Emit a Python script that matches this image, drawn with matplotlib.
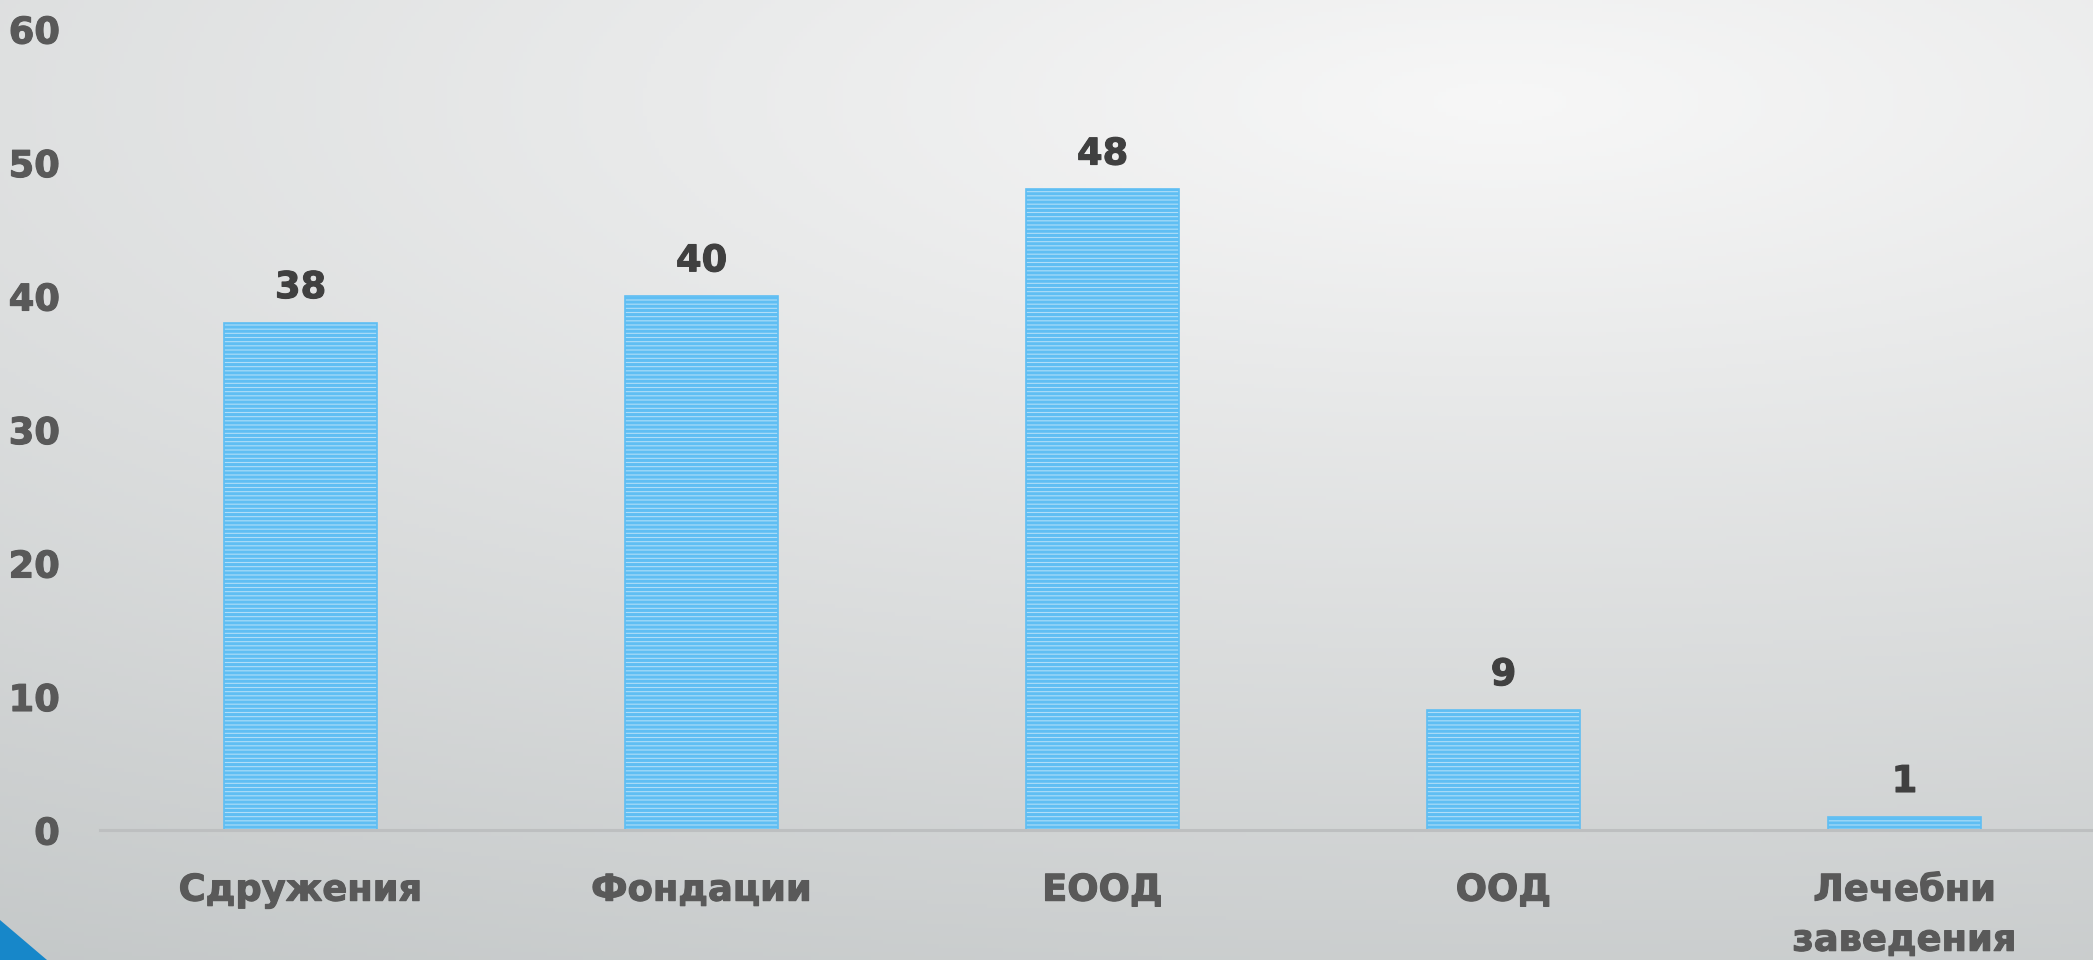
import numpy as np
import matplotlib
matplotlib.use("Agg")
from matplotlib import pyplot as plt
from matplotlib.patches import Polygon
import matplotlib.patheffects as pe

categories = ['Сдружения', 'Фондации', 'ЕООД', 'ООД', 'Лечебни\nзаведения']
values = [38, 40, 48, 9, 1]
yticks = [0, 10, 20, 30, 40, 50, 60]

bar_color = '#2ea8ef'
label_color = '#595959'
value_color = '#404040'
fsize = 26.5

plt.rcParams['font.family'] = ['DejaVu Sans']
plt.rcParams['hatch.linewidth'] = 2.2
plt.rcParams['hatch.color'] = bar_color

W, H = 2093, 960
fig = plt.figure(figsize=(W / 100, H / 100), dpi=100)

# background: light spot towards the upper right, darker to the bottom
bg = fig.add_axes([0, 0, 1, 1])
yy, xx = np.mgrid[0:H:4, 0:W:4]
dist = np.sqrt((0.015 * (xx - 1500)) ** 2 + (0.047 * (yy - 100)) ** 2)
B = 247 - dist
t = np.clip(dist / 45, 0, 1)
img = np.dstack([B - 4 * t, B - 0.5 * t, B]) / 255
bg.imshow(np.clip(img, 0, 1), aspect='auto', extent=[0, 1, 0, 1], origin='upper')
bg.add_patch(Polygon([[0, 0], [47 / W, 0], [0, 40 / H]], closed=True,
                     facecolor='#1787c9', edgecolor='none'))
bg.set_xlim(0, 1)
bg.set_ylim(0, 1)
bg.axis('off')

ax = fig.add_axes([100 / W, 130 / H, 1 - 100 / W, 801 / H])
ax.patch.set_alpha(0)
x = np.arange(len(categories))
bars = ax.bar(x, values, width=0.38, color='#b0def8', edgecolor='#5fbef3',
              linewidth=1.2, hatch='----')
for b, v in zip(bars, values):
    ax.annotate(str(v), (b.get_x() + b.get_width() / 2, v), xytext=(0, 12),
                textcoords='offset points', ha='center', va='bottom',
                fontsize=fsize, fontweight='bold', color=value_color,
                path_effects=[pe.withStroke(linewidth=0.8, foreground=value_color)])

ax.set_xlim(-0.5, 4.47)
ax.set_ylim(0, 60)
ax.set_yticks(yticks)
ax.set_xticks(x)
ax.set_xticklabels(categories, fontsize=fsize, fontweight='bold', color=label_color,
                   linespacing=1.45, va='top')
for tl in ax.get_xticklabels() + ax.get_yticklabels():
    tl.set_fontsize(fsize)
    tl.set_fontweight('bold')
    tl.set_color(label_color)
    tl.set_path_effects([pe.withStroke(linewidth=0.8, foreground=label_color)])
ax.tick_params(axis='y', length=0, pad=29)
ax.tick_params(axis='x', length=0, pad=30)
for s in ['top', 'right', 'left']:
    ax.spines[s].set_visible(False)
ax.spines['bottom'].set_color('#bdbfc0')
ax.spines['bottom'].set_linewidth(2.2)

fig.savefig('out.png', dpi=100)
